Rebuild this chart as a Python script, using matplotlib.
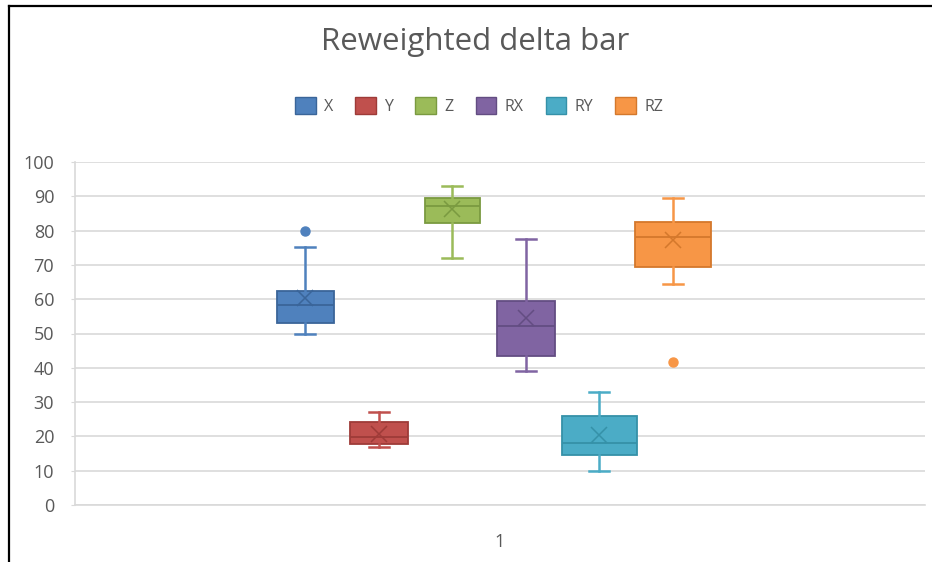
import matplotlib.pyplot as plt
from matplotlib.lines import Line2D
from matplotlib.patches import Patch

# Datos
series = ['X', 'Y', 'Z', 'RX', 'RY', 'RZ']
whislo = [49.8, 16.8, 71.9, 39.0, 10.0, 64.4]
q1 = [53.0, 17.8, 82.1, 43.4, 14.5, 69.5]
med = [58.3, 19.9, 87.2, 52.2, 18.0, 78.0]
q3 = [62.4, 24.3, 89.4, 59.5, 26.0, 82.6]
whishi = [75.3, 27.0, 93.0, 77.5, 32.9, 89.4]
means = [60.3, 20.7, 86.2, 54.4, 20.4, 77.3]
fliers = [[80.0], [], [], [], [], [41.8]]
category = '1'

fill = ['#4F81BD', '#C0504D', '#9BBB59', '#8064A2', '#4BACC6', '#F79646']
edge = ['#3A6599', '#9E3B38', '#7A9A40', '#634D82', '#3591A8', '#D4782C']

font = 'Open Sans'
grey = '#595959'

fig = plt.figure(figsize=(9.32, 5.62), dpi=100)
ax = fig.add_axes([75 / 932, 57 / 562, 850 / 932, 343 / 562])

# escala: 850 px por unidad en x
px = 1 / 850
step = 73.5 * px
widths = [w * px for w in [57, 58, 55, 58, 75, 76]]

for i in range(len(series)):
    stats = [dict(whislo=whislo[i], q1=q1[i], med=med[i], q3=q3[i],
                  whishi=whishi[i], mean=means[i], fliers=fliers[i])]
    pos = 1 - 11 * px + (i - 2.5) * step
    ax.bxp(stats, positions=[pos], widths=widths[i], capwidths=[20 * px],
           patch_artist=True, showmeans=True, manage_ticks=False,
           boxprops=dict(facecolor=fill[i], edgecolor=edge[i], linewidth=1.3),
           medianprops=dict(color=edge[i], linewidth=1.3),
           whiskerprops=dict(color=fill[i], linewidth=1.8),
           capprops=dict(color=fill[i], linewidth=1.8),
           meanprops=dict(marker='x', markersize=12, markeredgecolor=edge[i],
                          markeredgewidth=1.1),
           flierprops=dict(marker='o', markersize=6.5, markerfacecolor=fill[i],
                           markeredgecolor=fill[i]),
           zorder=3)

ax.set_xlim(0.5, 1.5)
ax.set_ylim(0, 100)
ax.set_yticks(range(0, 101, 10))
ax.set_xticks([1])
ax.set_xticklabels([category])

ax.grid(axis='y', color='#D9D9D9', linewidth=1.2, zorder=0)
for s in ['top', 'right']:
    ax.spines[s].set_visible(False)
ax.spines['left'].set_color('#D9D9D9')
ax.spines['bottom'].set_color('#D9D9D9')
ax.spines['left'].set_linewidth(1.2)
ax.spines['bottom'].set_linewidth(1.2)
ax.tick_params(axis='y', length=3, color='#D9D9D9', labelsize=13,
               labelcolor=grey, pad=12)
ax.tick_params(axis='x', length=0, labelsize=13, labelcolor=grey, pad=20)
for lab in ax.get_xticklabels() + ax.get_yticklabels():
    lab.set_fontfamily(font)

fig.text(475 / 932, 1 - 42 / 562, 'Reweighted delta bar', ha='center',
         va='center', fontsize=22.5, color=grey, fontfamily=font)

handles = [Patch(facecolor=fill[i], edgecolor=edge[i], label=series[i])
           for i in range(len(series))]
fig.legend(handles=handles, loc='center', bbox_to_anchor=(479 / 932, 1 - 106 / 562),
           ncol=6, frameon=False, handlelength=1.3, handleheight=1.2,
           handletextpad=0.5, columnspacing=1.4,
           prop=dict(family=font, size=11.5), labelcolor=grey)

# borde negro arriba e izquierda
fig.add_artist(Line2D([8.5 / 932, 8.5 / 932], [0, 1 - 5.5 / 562], color='black',
                      linewidth=1.6, transform=fig.transFigure))
fig.add_artist(Line2D([8.5 / 932, 1], [1 - 5.5 / 562, 1 - 5.5 / 562], color='black',
                      linewidth=1.6, transform=fig.transFigure))

fig.savefig('out.png', dpi=100)
